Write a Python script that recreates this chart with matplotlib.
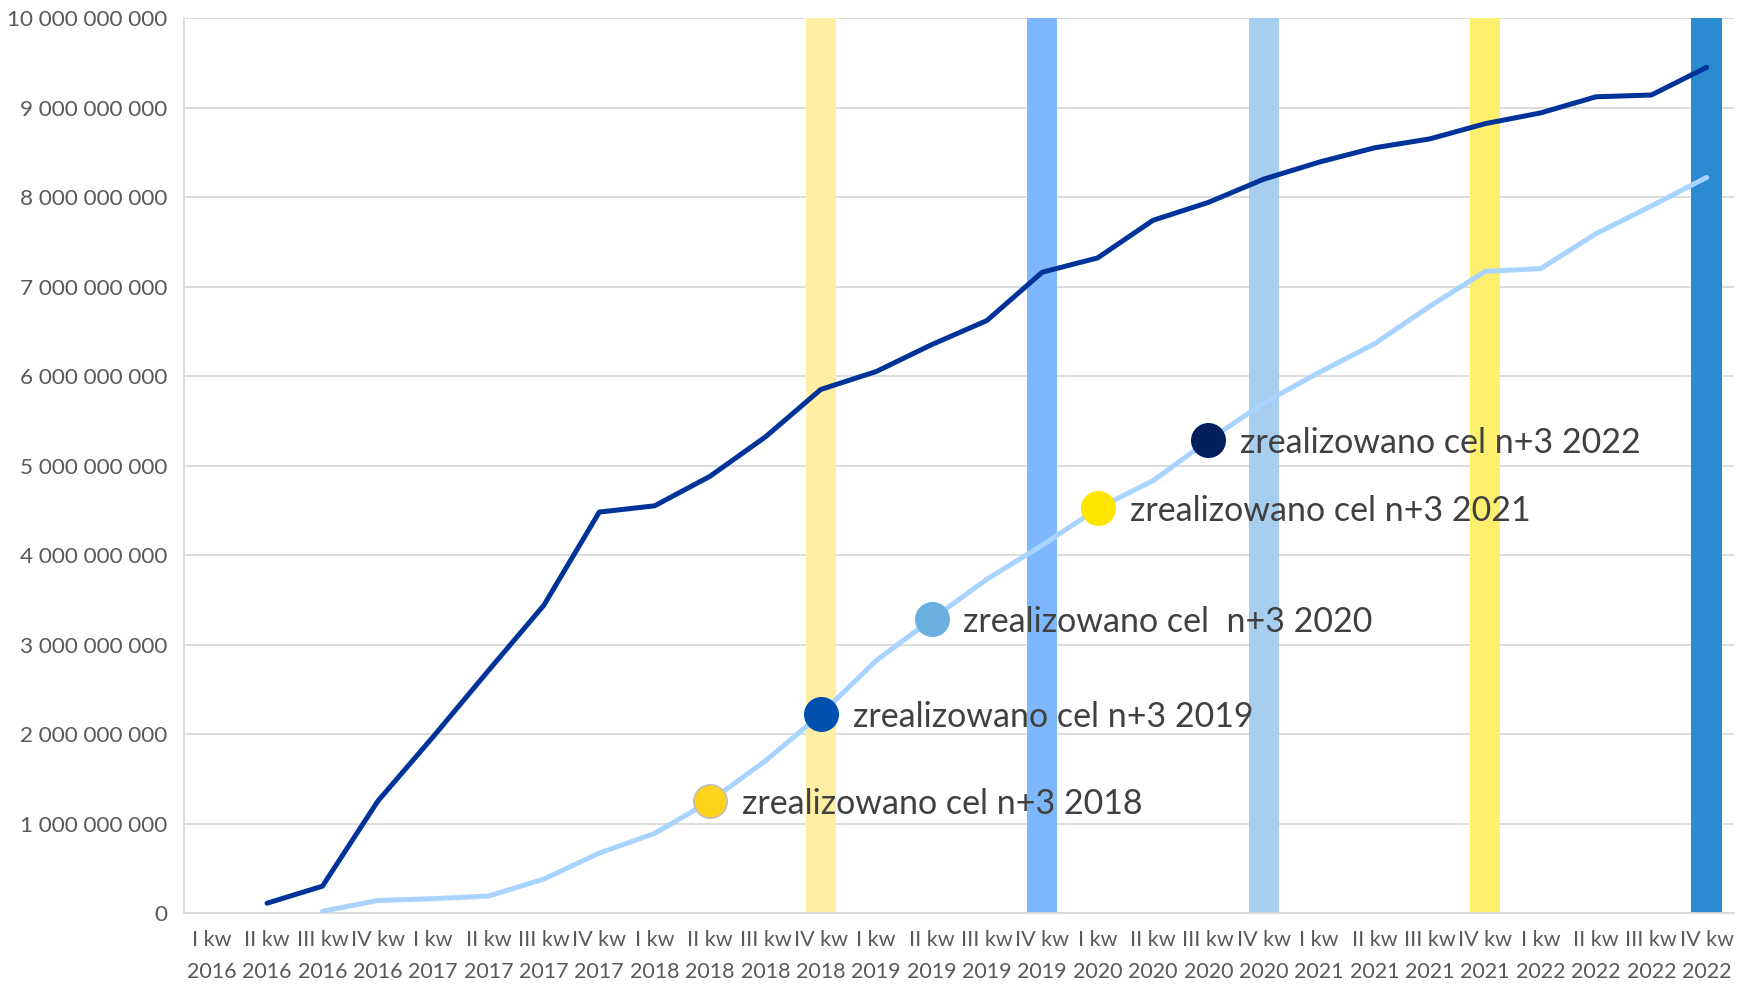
import matplotlib
matplotlib.use("Agg")
import matplotlib.pyplot as plt
from matplotlib.ticker import FuncFormatter

quarters = ["I kw", "II kw", "III kw", "IV kw"]
years = [2016, 2017, 2018, 2019, 2020, 2021, 2022]
categories = [f"{q}\n{y}" for y in years for q in quarters]

# values in billions (None = no data)
dark_series = [None, 0.11, 0.30, 1.25, 1.97, 2.71, 3.44, 4.48,
               4.55, 4.88, 5.32, 5.85, 6.05, 6.35, 6.62, 7.16,
               7.32, 7.74, 7.94, 8.20, 8.39, 8.55, 8.65, 8.82,
               8.94, 9.12, 9.14, 9.45]
light_series = [None, None, 0.02, 0.14, 0.16, 0.19, 0.38, 0.67,
                0.89, 1.25, 1.70, 2.22, 2.82, 3.28, 3.73, 4.11,
                4.52, 4.83, 5.28, 5.70, 6.04, 6.36, 6.78, 7.17,
                7.20, 7.59, 7.90, 8.22]

band_idx = [11, 15, 19, 23, 27]
band_colors = ["#FFEEA3", "#7DB8FE", "#A7CEEE", "#FFEF6E", "#2A8BD1"]

marker_idx = [9, 11, 13, 16, 18]
marker_labels = ["zrealizowano cel n+3 2018", "zrealizowano cel n+3 2019",
                 "zrealizowano cel  n+3 2020", "zrealizowano cel n+3 2021",
                 "zrealizowano cel n+3 2022"]
marker_colors = ["#FFD31C", "#0050B0", "#6AB0E0", "#FFE500", "#001F5C"]
marker_edges = ["#BFBFBF", "#0050B0", "#6AB0E0", "#FFE500", "#001F5C"]

plt.rcParams['font.family'] = ['Lato', 'DejaVu Sans']

fig = plt.figure(figsize=(17.44, 9.86), dpi=100)
ax = fig.add_axes([0.1055, 0.074, 0.889, 0.9077])

x = list(range(len(categories)))
scale = 1e9

# vertical bands
ax.bar(band_idx, [10 * scale] * len(band_idx), width=0.55, color=band_colors, zorder=1)

dx = [i for i, v in enumerate(dark_series) if v is not None]
dy = [dark_series[i] * scale for i in dx]
lx = [i for i, v in enumerate(light_series) if v is not None]
ly = [light_series[i] * scale for i in lx]

ax.plot(dx, dy, color="#00339A", lw=3.6, zorder=3, solid_capstyle="round")
ax.plot(lx, ly, color="#A9D4FF", lw=3.6, zorder=3, solid_capstyle="round")

for i, lab, c, ec in zip(marker_idx, marker_labels, marker_colors, marker_edges):
    yv = light_series[i] * scale
    ax.plot([i], [yv], 'o', ms=24, color=c, mec=ec, mew=1.2, zorder=4)
    ax.annotate(lab, (i, yv), xytext=(23, 0), textcoords="offset points",
                ha="left", va="center_baseline", fontsize=24.5, color="#404040", zorder=5)

ax.set_xlim(-0.5, len(categories) - 0.5)
ax.set_ylim(0, 10 * scale)
ax.set_yticks([k * scale for k in range(11)])
ax.yaxis.set_major_formatter(FuncFormatter(lambda v, p: f"{int(round(v)):,}".replace(",", " ")))
ax.set_xticks(x)
ax.set_xticklabels(categories, linespacing=1.75)
ax.tick_params(axis="both", length=0, labelsize=15.5, colors="#595959")
ax.tick_params(axis="y", labelsize=16.2, pad=12)
ax.tick_params(axis="x", pad=12)
ax.grid(axis="y", color="#D9D9D9", lw=1.3, zorder=0)
ax.set_axisbelow(True)
for s in ["top", "right"]:
    ax.spines[s].set_visible(False)
for s in ["left", "bottom"]:
    ax.spines[s].set_color("#D9D9D9")
    ax.spines[s].set_linewidth(1.3)

fig.savefig("out.png", dpi=100)
